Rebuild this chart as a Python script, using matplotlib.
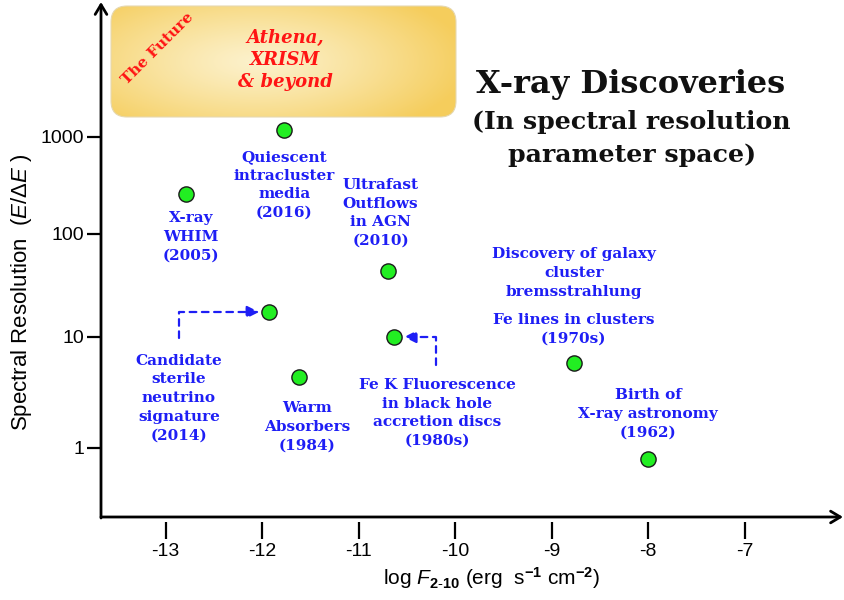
import numpy as np
import matplotlib
matplotlib.use('Agg')
import matplotlib.pyplot as plt
from matplotlib.patches import FancyBboxPatch, FancyArrowPatch
from matplotlib.ticker import NullLocator

# ---------------- data ----------------
flux = [-12.79, -11.77, -10.70, -11.93, -10.63, -11.62, -8.77, -8.00]
resolution = [258, 1180, 43.7, 17.5, 10.0, 4.36, 5.83, 0.796]
labels = [
    "X-ray\nWHIM\n(2005)",
    "Quiescent\nintracluster\nmedia\n(2016)",
    "Ultrafast\nOutflows\nin AGN\n(2010)",
    "Candidate\nsterile\nneutrino\nsignature\n(2014)",
    "Fe K Fluorescence\nin black hole\naccretion discs\n(1980s)",
    "Warm\nAbsorbers\n(1984)",
    "Fe lines in clusters\n(1970s)",
    "Birth of\nX-ray astronomy\n(1962)",
]
extra_label = "Discovery of galaxy\ncluster\nbremsstrahlung"
xticks = [-13, -12, -11, -10, -9, -8, -7]
yticks = [1, 10, 100, 1000]
ytick_labels = ["1", "10", "100", "1000"]
title_lines = ["X-ray Discoveries", "(In spectral resolution", "parameter space)"]
future_text = "Athena,\nXRISM\n& beyond"

# ---------------- layout / style ----------------
W, H = 845, 600
BLUE = '#1e1ef5'
RED = '#ff1414'
GREEN = '#22ee22'
SERIF = ['DejaVu Serif']
SANS = ['Liberation Sans', 'DejaVu Sans']
LBL_FS = 11
LBL_LS = 1.42

plt.rcParams['mathtext.fontset'] = 'custom'
plt.rcParams['mathtext.rm'] = 'Liberation Sans'
plt.rcParams['mathtext.it'] = 'Liberation Sans:italic'
plt.rcParams['mathtext.bf'] = 'Liberation Sans:bold'
plt.rcParams['font.family'] = SANS

fig = plt.figure(figsize=(W / 100, H / 100), dpi=100)


def fx(px):
    return px / W


def fy(py):
    return 1 - py / H


# axes placement (pixels)
AX_L, AX_R, AX_T, AX_B = 101, 830, 10, 522
ax = fig.add_axes([fx(AX_L), fy(AX_B), (AX_R - AX_L) / W, (AX_B - AX_T) / H])

# uneven decade spacing of the original (hand drawn) log axis
DEC_LOG = np.array([0., 1., 2., 3.])
DEC_POS = np.array([0., 1.0704, 2.0637, 3.0])
S_LO = DEC_POS[1] - DEC_POS[0]
S_HI = DEC_POS[3] - DEC_POS[2]


def fwd(v):
    l = np.log10(np.clip(np.asarray(v, float), 1e-30, None))
    return np.where(l < 0, l * S_LO,
                    np.where(l > 3, DEC_POS[3] + (l - 3) * S_HI,
                             np.interp(l, DEC_LOG, DEC_POS)))


def inv(p):
    p = np.asarray(p, float)
    l = np.where(p < 0, p / S_LO,
                 np.where(p > DEC_POS[3], 3 + (p - DEC_POS[3]) / S_HI,
                          np.interp(p, DEC_POS, DEC_LOG)))
    return 10 ** l


ax.set_yscale('function', functions=(fwd, inv))
PXU = 103.7  # pixels per position unit
Y1PX = 448   # pixel of value 1
ax.set_ylim(float(inv((Y1PX - AX_B) / PXU)), float(inv((Y1PX - AX_T) / PXU)))
X13PX, XPU = 165.6, 96.5
ax.set_xlim(-13 - (X13PX - AX_L) / XPU, -13 + (AX_R - X13PX) / XPU)

for s in ax.spines.values():
    s.set_visible(False)
ax.patch.set_alpha(0)

ax.set_xticks(xticks, labels=[str(t) for t in xticks])
ax.set_yticks(yticks, labels=ytick_labels)
ax.yaxis.set_minor_locator(NullLocator())
ax.xaxis.set_minor_locator(NullLocator())
ax.tick_params(axis='x', direction='out', length=12, width=1.6, pad=3,
               labelsize=14, color='black')
ax.tick_params(axis='y', direction='out', length=10, width=1.6, pad=2,
               labelsize=14, color='black')

# axis lines with arrows
AXIS_Y = 517
fig.add_artist(FancyArrowPatch((fx(AX_L), fy(AXIS_Y)), (fx(843), fy(AXIS_Y)),
                               transform=fig.transFigure, arrowstyle='->,head_length=0.5,head_width=0.3',
                               mutation_scale=14, lw=2, color='black', shrinkA=0, shrinkB=0))
fig.add_artist(FancyArrowPatch((fx(AX_L), fy(AXIS_Y + 1)), (fx(AX_L), fy(2)),
                               transform=fig.transFigure, arrowstyle='->,head_length=0.5,head_width=0.3',
                               mutation_scale=14, lw=2, color='black', shrinkA=0, shrinkB=0))

# axis labels
ax.set_xlabel(r'log $\mathit{F}_{\mathbf{2\text{-}10}}$ (erg  s$^{\mathbf{-1}}$ cm$^{\mathbf{-2}}$)',
              fontsize=15, va='center')
ax.xaxis.set_label_coords(fx(492), fy(578), transform=fig.transFigure)
ax.set_ylabel(r'Spectral Resolution  ($\mathit{E/\Delta E}$ )', fontsize=16, va='center')
ax.yaxis.set_label_coords(fx(22), fy(292), transform=fig.transFigure)

# points
ax.scatter(flux, resolution, s=120, c=GREEN, edgecolors='#1a1a1a', linewidths=1.0,
           zorder=5, clip_on=False)

# label offsets (pixels, right / down) relative to each point
offsets = [(5, 43), (0, 55), (-7, -58), (-90, 86), (43, 76), (8, 50), (0, -34), (0, -45)]
for xv, yv, txt, (dx, dy) in zip(flux, resolution, labels, offsets):
    ax.annotate(txt, xy=(xv, yv), xytext=(dx, -dy), textcoords='offset pixels',
                ha='center', va='center', color=BLUE, fontsize=LBL_FS,
                fontweight='bold', family=SERIF, linespacing=LBL_LS)
ax.annotate(extra_label, xy=(flux[6], resolution[6]), xytext=(0, 90),
            textcoords='offset pixels', ha='center', va='center', color=BLUE,
            fontsize=LBL_FS, fontweight='bold', family=SERIF, linespacing=LBL_LS)

# dashed arrows
for idx, (dx, dy) in [(3, (-90, 26)), (4, (42, 28))]:
    ax.annotate('', xy=(flux[idx], resolution[idx]), xytext=(dx, -dy),
                textcoords='offset pixels',
                arrowprops=dict(arrowstyle='-|>,head_length=0.6,head_width=0.3',
                                linestyle=(0, (3, 2.5)), color=BLUE, lw=1.6,
                                connectionstyle='angle,angleA=90,angleB=0,rad=0',
                                shrinkA=0, shrinkB=7, mutation_scale=12))

# title
fig.text(fx(631), fy(85), title_lines[0], ha='center', va='center', fontsize=23,
         fontweight='bold', family=SERIF, color='#111111')
fig.text(fx(631), fy(122), title_lines[1], ha='center', va='center', fontsize=18.2,
         fontweight='bold', family=SERIF, color='#111111')
fig.text(fx(632), fy(155), title_lines[2], ha='center', va='center', fontsize=18.2,
         fontweight='bold', family=SERIF, color='#111111')

# "The Future" box with gradient
BX0, BX1, BY0, BY1 = 110, 457, 5, 118
bw, bh = BX1 - BX0, BY1 - BY0
bax = fig.add_axes([fx(BX0), fy(BY1), bw / W, bh / H])
bax.set_xlim(0, bw)
bax.set_ylim(0, bh)
bax.axis('off')
gx, gy = np.meshgrid(np.linspace(0, bw, 347), np.linspace(0, bh, 113))
r = np.sqrt(((gx - 0.42 * bw) / (0.62 * bw)) ** 2 + ((gy - 0.5 * bh) / (0.75 * bh)) ** 2)
r = np.clip(r, 0, 1)
c0 = np.array([252, 241, 203]) / 255
c1 = np.array([245, 205, 92]) / 255
img = c0[None, None, :] * (1 - r[..., None] ** 1.2) + c1[None, None, :] * (r[..., None] ** 1.2)
patch = FancyBboxPatch((1, 1), bw - 2, bh - 2, boxstyle='round,pad=0,rounding_size=16',
                       facecolor='none', edgecolor='#e6d8b0', lw=0.8)
bax.add_patch(patch)
im = bax.imshow(img, extent=[0, bw, 0, bh], origin='lower', aspect='auto')
im.set_clip_path(patch)

fig.text(fx(158), fy(49), 'The Future', rotation=45, ha='center', va='center',
         fontsize=11, fontweight='bold', family=SERIF, color=RED)
fig.text(fx(285), fy(60), future_text, ha='center', va='center', fontsize=13,
         fontweight='bold', style='italic', family=SERIF, color=RED, linespacing=1.3)

fig.savefig('out.png', dpi=100)
